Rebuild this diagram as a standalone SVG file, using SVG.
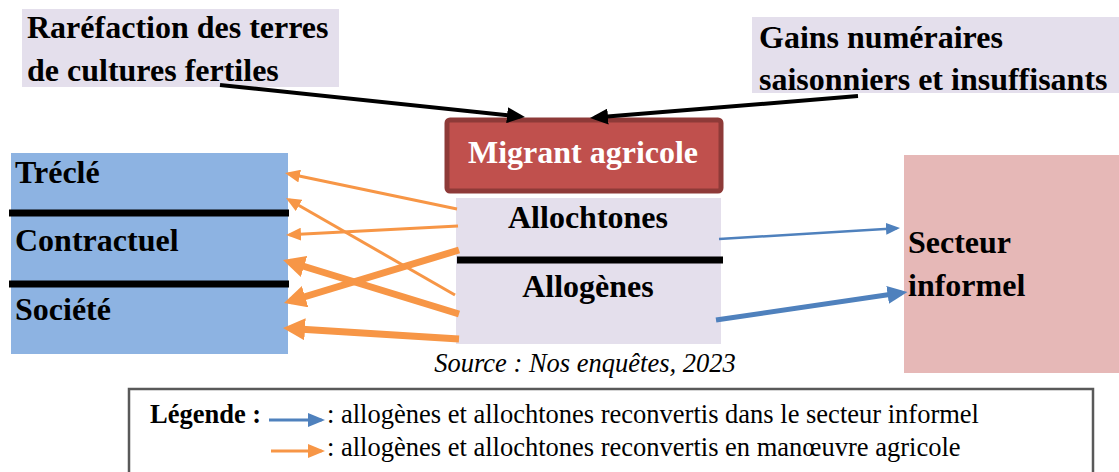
<svg xmlns="http://www.w3.org/2000/svg" width="1119" height="472" viewBox="0 0 1119 472">
  <style>
    .lbl { font-family: "Liberation Serif", "Times New Roman", serif; font-weight: bold; font-size: 32px; fill: #000; }
    .wht { fill: #fff; }
    .src { font-family: "Liberation Serif", "Times New Roman", serif; font-style: italic; font-size: 26.5px; fill: #000; }
    .leg { font-family: "Liberation Serif", "Times New Roman", serif; font-size: 26.5px; fill: #000; }
    .legb { font-weight: bold; }
    .sep { stroke: #000; stroke-width: 7; }
    .blk { stroke: #000; stroke-width: 4; fill: none; marker-end: url(#hBlack); }
    .oT { stroke: #F79646; stroke-width: 3; fill: none; marker-end: url(#hOrT); }
    .oK { stroke: #F79646; stroke-width: 7; fill: none; marker-end: url(#hOrK); }
    .bT { stroke: #4F81BD; stroke-width: 2.5; fill: none; marker-end: url(#hBlT); }
    .bK { stroke: #4F81BD; stroke-width: 5; fill: none; marker-end: url(#hBlK); }
    .lgB { stroke: #4F81BD; stroke-width: 3; fill: none; marker-end: url(#hLgB); }
    .lgO { stroke: #F79646; stroke-width: 3; fill: none; marker-end: url(#hLgO); }
  </style>
  <defs>
    <marker id="hBlack" markerUnits="userSpaceOnUse" markerWidth="18" markerHeight="16" refX="13" refY="8" orient="auto">
      <path d="M0,0 L18,8 L0,16 z" fill="#000"/>
    </marker>
    <marker id="hOrT" markerUnits="userSpaceOnUse" markerWidth="15" markerHeight="13" refX="11.5" refY="6.5" orient="auto">
      <path d="M0,0 L15,6.5 L0,13 z" fill="#F79646"/>
    </marker>
    <marker id="hOrK" markerUnits="userSpaceOnUse" markerWidth="22" markerHeight="22" refX="15" refY="11" orient="auto">
      <path d="M0,0 L22,11 L0,22 z" fill="#F79646"/>
    </marker>
    <marker id="hBlT" markerUnits="userSpaceOnUse" markerWidth="14" markerHeight="12" refX="11" refY="6" orient="auto">
      <path d="M0,0 L14,6 L0,12 z" fill="#4F81BD"/>
    </marker>
    <marker id="hBlK" markerUnits="userSpaceOnUse" markerWidth="20" markerHeight="18" refX="14" refY="9" orient="auto">
      <path d="M0,0 L20,9 L0,18 z" fill="#4F81BD"/>
    </marker>
    <marker id="hLgB" markerUnits="userSpaceOnUse" markerWidth="17" markerHeight="14" refX="13.5" refY="7" orient="auto">
      <path d="M0,0 L17,7 L0,14 z" fill="#4F81BD"/>
    </marker>
    <marker id="hLgO" markerUnits="userSpaceOnUse" markerWidth="17" markerHeight="14" refX="13.5" refY="7" orient="auto">
      <path d="M0,0 L17,7 L0,14 z" fill="#F79646"/>
    </marker>
  </defs>

  <rect width="1119" height="472" fill="#fff"/>

  <g id="rarefaction">
    <rect x="22" y="9" width="317" height="78" fill="#E4DFEC"/>
    <text class="lbl" x="27" y="38">Raréfaction des terres</text>
    <text class="lbl" x="27" y="81">de cultures fertiles</text>
  </g>

  <g id="gains">
    <rect x="752" y="17" width="367" height="76" fill="#E4DFEC"/>
    <text class="lbl" x="759" y="48">Gains numéraires</text>
    <text class="lbl" x="759" y="90">saisonniers et insuffisants</text>
  </g>

  <g id="migrant">
    <rect x="447" y="120" width="274" height="71" rx="3" fill="#C0504D" stroke="#8E3A38" stroke-width="5"/>
    <text class="lbl wht" x="583" y="163" text-anchor="middle">Migrant agricole</text>
  </g>

  <g id="allo">
    <rect x="456" y="198" width="265" height="146" fill="#E4DFEC"/>
    <line class="sep" x1="457" y1="260" x2="723" y2="260"/>
    <text class="lbl" x="588" y="228" text-anchor="middle">Allochtones</text>
    <text class="lbl" x="588" y="297" text-anchor="middle">Allogènes</text>
  </g>

  <g id="statuts">
    <rect x="11" y="153" width="277" height="201" fill="#8DB3E2"/>
    <line class="sep" x1="9" y1="213" x2="289" y2="213"/>
    <line class="sep" x1="9" y1="284" x2="289" y2="284"/>
    <text class="lbl" x="15" y="183">Tréclé</text>
    <text class="lbl" x="15" y="251">Contractuel</text>
    <text class="lbl" x="15" y="320">Société</text>
  </g>

  <g id="secteur">
    <rect x="904" y="155" width="215" height="218" fill="#E6B8B7"/>
    <text class="lbl" x="908" y="253">Secteur</text>
    <text class="lbl" x="908" y="296">informel</text>
  </g>

  <g id="source">
    <text class="src" x="585" y="372" text-anchor="middle">Source : Nos enquêtes, 2023</text>
  </g>

  <g id="connectors">
    <line class="blk" x1="220" y1="85" x2="520" y2="116.5"/>
    <line class="blk" x1="858" y1="96" x2="595" y2="117.6"/>
    <line class="oT" x1="457" y1="209" x2="288.4" y2="173.7"/>
    <line class="oT" x1="458" y1="226" x2="289.5" y2="234.8"/>
    <line class="oT" x1="455" y1="295" x2="289" y2="199.7"/>
    <line class="oK" x1="459" y1="250" x2="290.7" y2="301"/>
    <line class="oK" x1="459" y1="314" x2="289.7" y2="262"/>
    <line class="oK" x1="459" y1="339" x2="290" y2="328.4"/>
    <line class="bT" x1="719" y1="239" x2="897" y2="228.2"/>
    <line class="bK" x1="716" y1="320" x2="901.5" y2="292.8"/>
  </g>

  <g id="legende">
    <rect x="129" y="389" width="964" height="90" fill="#fff" stroke="#595959" stroke-width="2.5"/>
    <text class="leg legb" x="150" y="423">Légende :</text>
    <line class="lgB" x1="269" y1="420" x2="321.5" y2="420"/>
    <text class="leg" x="327" y="423">: allogènes et allochtones reconvertis dans le secteur informel</text>
    <line class="lgO" x1="271" y1="451" x2="321.5" y2="451"/>
    <text class="leg" x="327" y="456">: allogènes et allochtones reconvertis en manœuvre agricole</text>
  </g>
</svg>
